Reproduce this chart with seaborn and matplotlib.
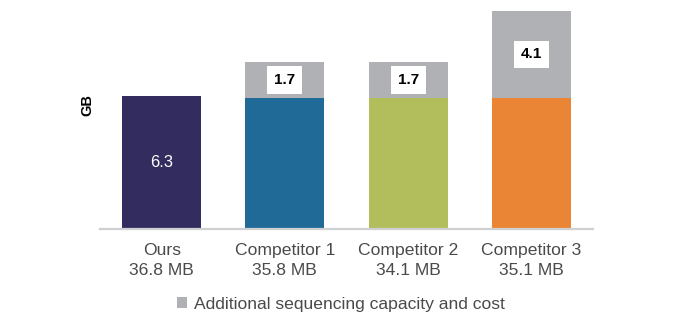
import matplotlib
matplotlib.use("Agg")
import matplotlib.pyplot as plt
from matplotlib.patches import Patch
import seaborn as sns
import pandas as pd

# Chart data
categories = ["Ours", "Competitor 1", "Competitor 2", "Competitor 3"]
sizes = ["36.8 MB", "35.8 MB", "34.1 MB", "35.1 MB"]
base_gb = [6.3, 6.2, 6.2, 6.2]
extra_gb = [0.0, 1.7, 1.7, 4.1]
bar_colors = ["#332C5E", "#1F6A96", "#B2BE5C", "#E98535"]
extra_color = "#AFB1B4"
legend_label = "Additional sequencing capacity and cost"

sns.set_theme(style="white")
plt.rcParams["font.family"] = ["Liberation Sans", "DejaVu Sans"]

df = pd.DataFrame({
    "category": categories,
    "base": base_gb,
    "extra": extra_gb,
})
df["total"] = df["base"] + df["extra"]

fig = plt.figure(figsize=(6.78, 3.30), dpi=100)
ax = fig.add_axes([100 / 678, 101 / 330, 493 / 678, 229 / 330])

# Stacked bars: totals in gray first, base values drawn over them
sns.barplot(data=df, x="category", y="total", color=extra_color,
            width=0.64, saturation=1, linewidth=0, ax=ax)
sns.barplot(data=df, x="category", y="base", hue="category",
            palette=bar_colors, width=0.64, saturation=1, linewidth=0,
            legend=False, ax=ax)

ax.set_xlim(-0.5, 3.5)
ax.set_ylim(0, 10.82)

# Value labels
for i, (b, e) in enumerate(zip(base_gb, extra_gb)):
    if e > 0:
        ax.text(i, b + e / 2, f"{e:.1f}", ha="center", va="center",
                fontsize=11, fontweight="bold", color="black",
                bbox=dict(boxstyle="square,pad=0.45", fc="white", ec="none"))
    else:
        ax.text(i, b / 2, f"{b:.1f}", ha="center", va="center",
                fontsize=12, color="white")

ax.set_xticks(range(len(categories)))
ax.set_xticklabels([f"{c}\n{s}" for c, s in zip(categories, sizes)],
                   fontsize=12.6, color="#4A4A4A", linespacing=1.45)
ax.tick_params(axis="x", length=0, pad=10)
ax.set_yticks([])
ax.set_xlabel("")
ax.set_ylabel("")

for side in ["top", "right", "left"]:
    ax.spines[side].set_visible(False)
ax.spines["bottom"].set_color("#CFD0D2")
ax.spines["bottom"].set_linewidth(1.6)

fig.text(87.5 / 678, 1 - 105 / 330, "GB", rotation=90, ha="center",
         va="center", fontsize=10.5, fontweight="bold", color="black")

handle = Patch(facecolor=extra_color, edgecolor="none")
fig.legend([handle], [legend_label], loc="center",
           bbox_to_anchor=(341 / 678, 1 - 304 / 330), frameon=False,
           fontsize=12.6, handlelength=0.55, handleheight=0.55,
           handletextpad=0.4, labelcolor="#4A4A4A")

fig.savefig("out.png", dpi=100)
